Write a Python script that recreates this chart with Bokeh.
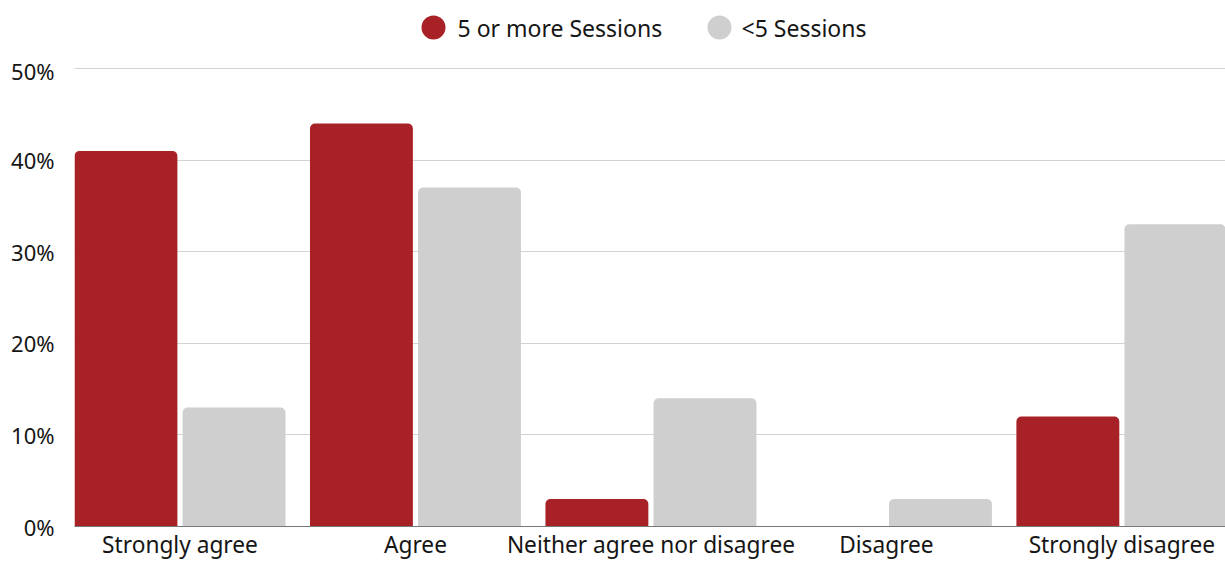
from bokeh.plotting import figure
from bokeh.models import ColumnDataSource, Range1d, FixedTicker, PrintfTickFormatter
from bokeh.layouts import column
from bokeh.transform import dodge
from bokeh.embed import file_html
from bokeh.resources import INLINE
from bokeh.core.properties import value

# Survey responses, share of respondents (%)
categories = ["Strongly agree", "Agree", "Neither agree nor disagree",
              "Disagree", "Strongly disagree"]
five_plus = [41, 44, 3, 0, 12]
under_five = [13, 37, 14, 3, 33]
series_names = ["5 or more Sessions", "<5 Sessions"]
y_ticks = [0, 10, 20, 30, 40, 50]

RED = "#a82126"
GREY = "#d0cfd0"
FONT = "Noto Sans"
TEXT = "#151515"
LEFT = 74

# ---- legend strip (x and y in pixels) ----
leg = figure(width=1225, height=55, x_range=Range1d(LEFT, 1225), y_range=Range1d(55, 0),
             output_backend="svg", toolbar_location=None, min_border=0,
             min_border_left=LEFT, min_border_right=0,
             x_axis_location=None, y_axis_location=None)
leg.outline_line_color = None
leg.xgrid.visible = False
leg.ygrid.visible = False
leg_src = ColumnDataSource(dict(cx=[433, 719], tx=[457, 741], y=[27, 27],
                                color=[RED, GREY], label=series_names))
leg.scatter("cx", "y", source=leg_src, size=24, fill_color="color", line_color=None)
leg.text("tx", "y", text="label", source=leg_src, text_font=value(FONT),
         text_font_size="23px", text_baseline="middle", text_align="left",
         text_color=TEXT)

# ---- grouped bar chart ----
centers = [i + 0.5 for i in range(len(categories))]
src = ColumnDataSource(dict(x=centers, five=five_plus, under=under_five))

p = figure(width=1225, height=507, output_backend="svg", toolbar_location=None,
           x_range=Range1d(0.052, 4.94), y_range=Range1d(0, 50.87),
           min_border_left=LEFT, min_border_right=0, min_border_top=5,
           min_border_bottom=36)
p.outline_line_color = None

half = 0.2295
width = 0.437
p.vbar(x=dodge("x", -half), top="five", bottom=0, width=width, source=src,
       fill_color=RED, line_color=None, border_radius=(5, 5, 0, 0))
p.vbar(x=dodge("x", half), top="under", bottom=0, width=width, source=src,
       fill_color=GREY, line_color=None, border_radius=(5, 5, 0, 0))

# axes
p.xaxis.ticker = FixedTicker(ticks=centers)
p.xaxis.major_label_overrides = {c: lab for c, lab in zip(centers, categories)}
p.xaxis.axis_line_color = "#777777"
p.xaxis.major_tick_line_color = None
p.xaxis.minor_tick_line_color = None
p.xaxis.major_tick_out = 0
p.xaxis.major_tick_in = 0
p.xaxis.major_label_standoff = 2
p.xaxis.major_label_text_font = FONT
p.xaxis.major_label_text_font_size = "22.7px"
p.xaxis.major_label_text_color = TEXT

p.yaxis.ticker = FixedTicker(ticks=y_ticks)
p.yaxis.formatter = PrintfTickFormatter(format="%d%%")
p.yaxis.axis_line_color = None
p.yaxis.major_tick_line_color = None
p.yaxis.minor_tick_line_color = None
p.yaxis.major_tick_out = 0
p.yaxis.major_tick_in = 0
p.yaxis.major_label_standoff = 20
p.yaxis.major_label_text_font = FONT
p.yaxis.major_label_text_font_size = "22px"
p.yaxis.major_label_text_color = TEXT

p.xgrid.visible = False
p.ygrid.ticker = FixedTicker(ticks=y_ticks)
p.ygrid.grid_line_color = "#d2d2d2"
p.ygrid.grid_line_width = 1

layout = column(leg, p, spacing=0)
open("out.html", "w").write(file_html(layout, INLINE))
